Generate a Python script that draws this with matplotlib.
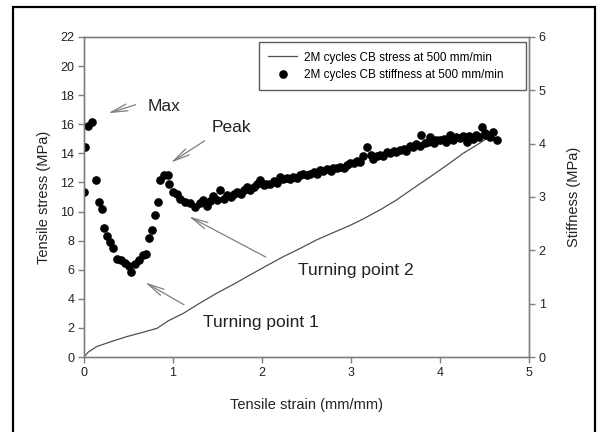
import matplotlib
matplotlib.use("Agg")
import matplotlib.pyplot as plt
from matplotlib.patches import Rectangle

plt.rcParams['font.family'] = ['Liberation Sans', 'DejaVu Sans']

# stress curve (left axis)
strain_line = [0.0, 0.05, 0.14, 0.3, 0.48, 0.65, 0.82, 0.95, 1.116, 1.3, 1.49, 1.68,
               1.865, 2.05, 2.24, 2.43, 2.61, 2.8, 2.99, 3.14, 3.33, 3.51, 3.7, 3.89,
               4.08, 4.26, 4.42, 4.58]
stress_line = [0.0, 0.35, 0.71, 1.05, 1.40, 1.68, 1.97, 2.5, 3.0, 3.7, 4.38, 5.0,
               5.64, 6.27, 6.9, 7.47, 8.04, 8.55, 9.05, 9.5, 10.13, 10.79, 11.6, 12.39,
               13.2, 14.0, 14.6, 15.25]

# stiffness points (right axis)
strain_pts = [0.00, 0.01, 0.05, 0.09, 0.13, 0.17, 0.20, 0.23, 0.26, 0.29, 0.33, 0.37,
              0.42, 0.46, 0.50, 0.53, 0.57, 0.62, 0.66, 0.70, 0.73, 0.76, 0.80, 0.83,
              0.85, 0.90, 0.94, 0.96, 1.00, 1.04, 1.08, 1.13, 1.19, 1.25, 1.30, 1.34,
              1.38, 1.42, 1.45, 1.49, 1.53, 1.57, 1.61, 1.65, 1.69, 1.72, 1.76, 1.80,
              1.83, 1.87, 1.91, 1.94, 1.98, 2.02, 2.05, 2.09, 2.13, 2.17, 2.20, 2.24,
              2.28, 2.32, 2.35, 2.39, 2.43, 2.46, 2.50, 2.54, 2.58, 2.62, 2.65, 2.69,
              2.73, 2.77, 2.80, 2.84, 2.88, 2.92, 2.95, 2.99, 3.03, 3.07, 3.10, 3.14,
              3.18, 3.22, 3.25, 3.29, 3.33, 3.36, 3.40, 3.44, 3.48, 3.51, 3.55, 3.59,
              3.62, 3.66, 3.70, 3.73, 3.77, 3.79, 3.83, 3.86, 3.89, 3.93, 3.96, 4.00,
              4.04, 4.07, 4.11, 4.15, 4.18, 4.22, 4.26, 4.30, 4.33, 4.37, 4.40, 4.44,
              4.47, 4.50, 4.52, 4.56, 4.60, 4.64]
stiffness_pts = [3.09, 3.94, 4.33, 4.40, 3.31, 2.91, 2.77, 2.42, 2.26, 2.16, 2.04, 1.84,
                 1.81, 1.76, 1.70, 1.60, 1.74, 1.82, 1.91, 1.94, 2.24, 2.38, 2.66, 2.91,
                 3.31, 3.41, 3.41, 3.25, 3.09, 3.05, 2.97, 2.91, 2.88, 2.82, 2.89, 2.94,
                 2.84, 2.92, 3.01, 2.95, 3.13, 2.97, 3.04, 3.00, 3.05, 3.10, 3.05, 3.14,
                 3.19, 3.14, 3.19, 3.25, 3.32, 3.22, 3.25, 3.25, 3.30, 3.27, 3.38, 3.33,
                 3.35, 3.33, 3.38, 3.35, 3.41, 3.44, 3.41, 3.44, 3.46, 3.44, 3.50, 3.49,
                 3.52, 3.49, 3.55, 3.54, 3.57, 3.55, 3.60, 3.63, 3.63, 3.68, 3.65, 3.76,
                 3.94, 3.79, 3.71, 3.76, 3.79, 3.76, 3.85, 3.82, 3.87, 3.85, 3.88, 3.90,
                 3.87, 3.95, 3.93, 4.00, 3.95, 4.16, 4.01, 4.04, 4.13, 4.01, 4.06, 4.07,
                 4.09, 4.04, 4.16, 4.06, 4.12, 4.10, 4.15, 4.04, 4.15, 4.09, 4.17, 4.12,
                 4.32, 4.20, 4.16, 4.12, 4.22, 4.07]

grey = '#7f7f7f'
txt = '#222222'

fig = plt.figure(figsize=(6, 4.32), dpi=100)
ax = fig.add_axes([0.14, 0.1736, 0.7417, 0.7408])
ax2 = ax.twinx()

line, = ax.plot(strain_line, stress_line, color='#505050', lw=0.9)
dots, = ax2.plot(strain_pts, stiffness_pts, 'o', color='black', ms=5.2, ls='none')

ax.set_xlim(0, 5)
ax.set_ylim(0, 22)
ax2.set_ylim(0, 6)
ax.set_xticks(range(0, 6))
ax.set_yticks(range(0, 23, 2))
ax2.set_yticks(range(0, 7))

for a in (ax, ax2):
    for s in a.spines.values():
        s.set_color(grey)
        s.set_linewidth(1.0)
    a.tick_params(direction='out', length=4, width=1, color=grey,
                  labelsize=9, labelcolor=txt, pad=3)

ax.set_xlabel('Tensile strain (mm/mm)', fontsize=10.5, color=txt, labelpad=14)
ax.set_ylabel('Tensile stress (MPa)', fontsize=10.5, color=txt, labelpad=7)
ax2.set_ylabel('Stiffness (MPa)', fontsize=10.5, color=txt, labelpad=15)

arrow = dict(arrowstyle='->,head_length=1.2,head_width=0.25', color=grey, lw=0.9)
ax.text(0.71, 17.2, 'Max', fontsize=12.5, color=txt, va='center')
ax.annotate('', xy=(0.24, 16.7), xytext=(0.61, 17.4), arrowprops=arrow)
ax.text(1.43, 15.77, 'Peak', fontsize=12.5, color=txt, va='center')
ax.annotate('', xy=(0.95, 13.26), xytext=(1.38, 14.96), arrowprops=arrow)
ax.text(1.34, 2.37, 'Turning point 1', fontsize=12.5, color=txt, va='center')
ax.annotate('', xy=(0.66, 5.22), xytext=(1.15, 3.5), arrowprops=arrow)
ax.text(2.40, 5.93, 'Turning point 2', fontsize=12.5, color=txt, va='center')
ax.annotate('', xy=(1.15, 9.76), xytext=(2.07, 6.78), arrowprops=arrow)

leg = ax2.legend([line, dots],
                 ['2M cycles CB stress at 500 mm/min',
                  '2M cycles CB stiffness at 500 mm/min'],
                 loc='upper left', bbox_to_anchor=(0.393, 0.831, 0.6, 0.153),
                 mode='expand', borderaxespad=0, fontsize=8.5, frameon=True,
                 fancybox=False, handlelength=2.4, labelspacing=0.45,
                 borderpad=0.8, handletextpad=0.6)
leg.get_frame().set_edgecolor('#333333')
leg.get_frame().set_linewidth(1.0)

# outer frame round the figure
fig.patches.append(Rectangle((0.0217, -0.05), 0.97, 1.034, transform=fig.transFigure,
                             fill=False, edgecolor='black', lw=1.6, clip_on=False))

fig.savefig('out.png', dpi=100)
